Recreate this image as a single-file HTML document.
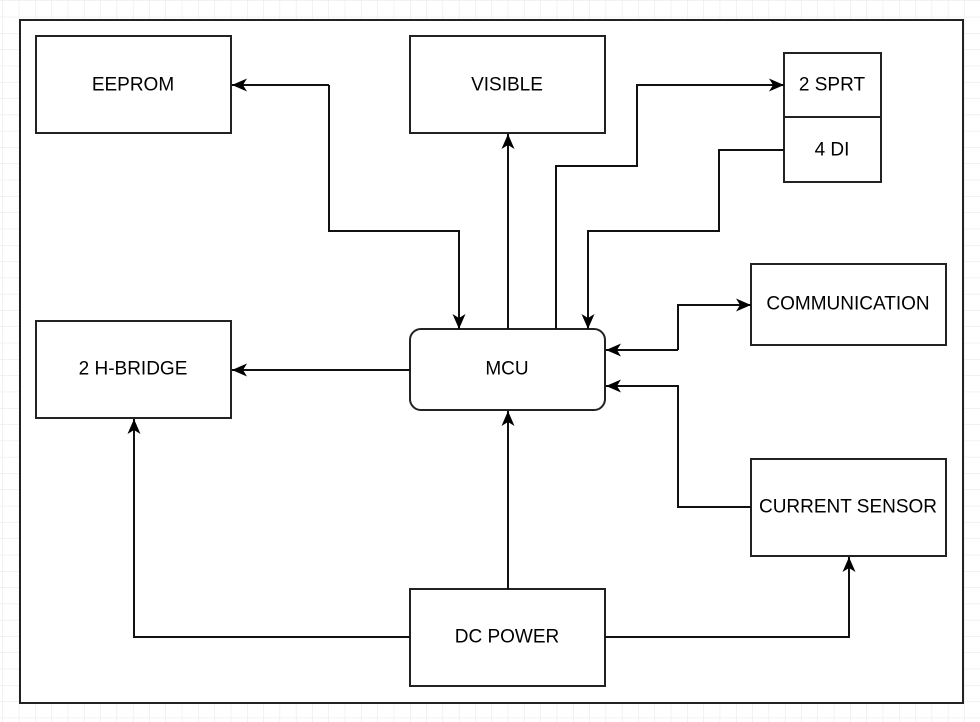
<!DOCTYPE html>
<html><head><meta charset="utf-8"><style>
html,body{margin:0;padding:0;background:#fff;}
svg{display:block;}
text{font-family:"Liberation Sans",Arial,sans-serif;font-size:19px;fill:#000;text-anchor:middle;dominant-baseline:central;}
</style></head><body>
<svg width="980" height="722" viewBox="0 0 980 722" xmlns="http://www.w3.org/2000/svg">
<defs>
<pattern id="g" x="3" y="1" width="16.3" height="16.3" patternUnits="userSpaceOnUse">
<path d="M16.3 0V16.3M0 16.3H16.3" stroke="#e6e6e6" stroke-width="1" fill="none"/>
</pattern>
<marker id="a" markerWidth="16" markerHeight="16" viewBox="0 0 16 16" refX="15" refY="8" orient="auto" markerUnits="userSpaceOnUse">
<path d="M0 1.5L15 8L0 14.5L4 8Z" fill="#000"/>
</marker>
</defs>
<rect width="980" height="722" fill="url(#g)"/>
<rect x="20" y="20" width="943" height="683" fill="#fff" stroke="#222" stroke-width="2"/>
<g fill="#fff" stroke="#222" stroke-width="2">
<rect x="36" y="36" width="195" height="97"/>
<rect x="410" y="36" width="195" height="97"/>
<rect x="784" y="53" width="97" height="64"/>
<rect x="784" y="117" width="97" height="65"/>
<rect x="751" y="264" width="195" height="81"/>
<rect x="36" y="321" width="195" height="97"/>
<rect x="410" y="329" width="195" height="81" rx="11"/>
<rect x="751" y="459" width="195" height="97"/>
<rect x="410" y="589" width="195" height="97"/>
</g>
<g fill="none" stroke="#111" stroke-width="2">
<path d="M329 85V231H459V329" marker-end="url(#a)"/>
<path d="M329 85H232" marker-end="url(#a)"/>
<path d="M508 329V134" marker-end="url(#a)"/>
<path d="M556 329V166H637V85H784" marker-end="url(#a)"/>
<path d="M784 150H719V231H588V329" marker-end="url(#a)"/>
<path d="M678 350V305H751" marker-end="url(#a)"/>
<path d="M678 350H606" marker-end="url(#a)"/>
<path d="M751 507H678V386H606" marker-end="url(#a)"/>
<path d="M410 370H232" marker-end="url(#a)"/>
<path d="M508 589V411" marker-end="url(#a)"/>
<path d="M410 637H134V419" marker-end="url(#a)"/>
<path d="M605 637H849V557" marker-end="url(#a)"/>
</g>
<text x="133" y="85">EEPROM</text>
<text x="507" y="85">VISIBLE</text>
<text x="832" y="85">2 SPRT</text>
<text x="832" y="150">4 DI</text>
<text x="848" y="304">COMMUNICATION</text>
<text x="133" y="369">2 H-BRIDGE</text>
<text x="507" y="369">MCU</text>
<text x="848" y="507">CURRENT SENSOR</text>
<text x="507" y="637">DC POWER</text>
</svg>
</body></html>
